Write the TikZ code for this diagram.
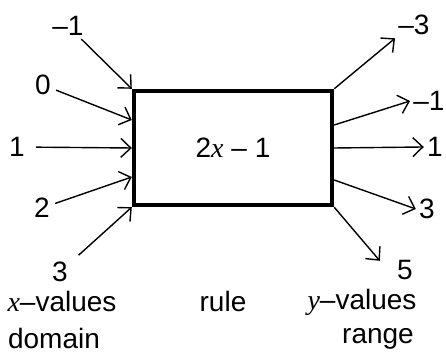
\documentclass[tikz,border=0pt]{standalone}
\usepackage{fontspec}
\setmainfont{Liberation Sans}
\newfontfamily\varfont{Liberation Serif}
\newcommand{\var}[1]{{\varfont\itshape #1}}
\usetikzlibrary{arrows.meta}

\begin{document}
\begin{tikzpicture}[x=0.5pt,y=-0.5pt,font=\fontsize{14}{16}\selectfont,
   lab/.style={inner sep=1.5pt},
   arr/.style={line width=0.7pt,
     -{Straight Barb[length=5pt,width=9.5pt,line width=0.7pt]}},
   rulebox/.style={draw,line width=2.2pt,minimum width=99pt,
     minimum height=57pt,inner sep=0pt}]
  \useasboundingbox (0,0) rectangle (446,356);
  % the rule
  \node[rulebox] (rule) at (233,148) {2\var{x} -- 1};
  \coordinate (in0) at ([yshift=14pt]rule.west);
  \coordinate (in2) at ([yshift=-14.5pt]rule.west);
  \coordinate (out1) at ([yshift=11.5pt]rule.east);
  \coordinate (out3) at ([yshift=-16pt]rule.east);
  % x-values
  \node[lab] (lm1) at (68,26) {--1};
  \node[lab] (l0) at (43,85) {0};
  \node[lab] (l1) at (17,147) {1};
  \node[lab] (l2) at (42,208) {2};
  \node[lab] (l3) at (60,272) {3};
  \draw[arr] (lm1) -- (rule.north west);
  \draw[arr,shorten <=1pt] (l0) -- (in0);
  \draw[arr,shorten <=4pt] (l1) -- (rule.west);
  \draw[arr,shorten <=1pt] (l2) -- (in2);
  \draw[arr,shorten <=5pt] (l3) -- (rule.south west);
  % y-values
  \node[lab] (rm3) at (414,25) {--3};
  \node[lab] (rm1) at (429,101) {--1};
  \node[lab] (r1) at (435,147) {1};
  \node[lab] (r3) at (427,209) {3};
  \node[lab] (r5) at (405,270) {5};
  \draw[arr] (rule.north east) -- (rm3.south west);
  \draw[arr] (out1) -- (rm1.west);
  \draw[arr] (rule.east) -- (r1.west);
  \draw[arr] (out3) -- (r3.west);
  \draw[arr] (rule.south east) -- ([shift={(-14,4)}]r5.north west);
  % captions
  \node (xv) at (62,302) {\var{x}--values};
  \node (dom) at (54,339) {domain};
  \node (rl) at (223,302) {rule};
  \node (yv) at (362,302) {\var{y}--values};
  \node (rng) at (378,339) {range};
\end{tikzpicture}
\end{document}
